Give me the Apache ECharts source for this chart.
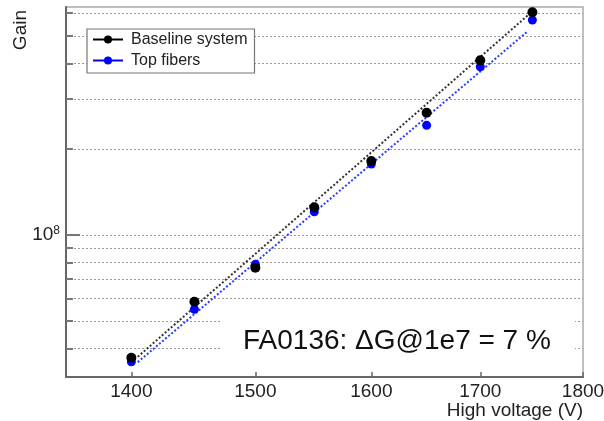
<!DOCTYPE html>
<html>
<head>
<meta charset="utf-8">
<script src="https://cdn.jsdelivr.net/npm/echarts@6/dist/echarts.min.js"></script>
<style>
html,body{margin:0;padding:0;background:#fff;}
#c{width:604px;height:421px;}
</style>
</head>
<body>
<div id="c"></div>
<script>
// ---- data ----
var voltages = [1400, 1450, 1500, 1550, 1600, 1650, 1700, 1750];
var baselineGain = [3.71e7, 5.83e7, 7.68e7, 1.251e8, 1.818e8, 2.686e8, 4.10e8, 6.045e8];
var topGain = [3.59e7, 5.49e7, 7.89e7, 1.207e8, 1.775e8, 2.426e8, 3.895e8, 5.68e8];
var baselineFitV = [1405, 1750];
var baselineFitG = [3.74e7, 6.09e8];
var topFitV = [1405, 1745];
var topFitG = [3.58e7, 5.17e8];
var xTicks = [1400, 1500, 1600, 1700, 1800];
var yTicks = [4e7, 5e7, 6e7, 7e7, 8e7, 9e7, 1e8, 2e8, 3e8, 4e8, 5e8, 6e8];
var yLabels = [1e8];
var annotation = 'FA0136: \u0394G@1e7 = 7 %';

function pairs(xs, ys) { return xs.map(function (x, i) { return [x, ys[i]]; }); }

var FONT = 'Liberation Sans, Arial, Helvetica, sans-serif';
var chart = echarts.init(document.getElementById('c'), null, {renderer: 'canvas'});
chart.setOption({
  animation: false,
  backgroundColor: '#fff',
  grid: {left: 66, right: 21, top: 7, bottom: 44, show: true, borderColor: '#aaa', borderWidth: 1.5,
         backgroundColor: 'transparent', outerBoundsMode: 'none', containLabel: false},
  legend: {
    orient: 'vertical', left: 87, top: 29,
    padding: [2, 7, 4, 5], itemGap: 4, itemWidth: 30, itemHeight: 10,
    borderColor: '#777', borderWidth: 1.2, backgroundColor: '#fff',
    textStyle: {fontFamily: FONT, fontSize: 16, color: '#222', lineHeight: 17, padding: [0, 0, 0, 3]},
    data: [
      {name: 'Baseline system', itemStyle: {color: '#000'}, lineStyle: {opacity: 1, width: 2, type: 'solid', color: '#000'}},
      {name: 'Top fibers', itemStyle: {color: '#0000ff'}, lineStyle: {opacity: 1, width: 2, type: 'solid', color: '#0000ff'}}
    ]
  },
  xAxis: {
    type: 'log', min: 1350, max: 1800,
    name: 'High voltage (V)', nameLocation: 'end', nameGap: 0,
    nameTextStyle: {fontFamily: FONT, fontSize: 19, color: '#222', align: 'right', verticalAlign: 'top', padding: [24, 0, 0, 0]},
    axisLine: {show: true, lineStyle: {color: '#666', width: 2}},
    axisTick: {show: true, inside: true, length: 5, customValues: xTicks, lineStyle: {color: '#666', width: 1.5}},
    minorTick: {show: false},
    axisLabel: {customValues: xTicks, fontFamily: FONT, fontSize: 19, color: '#222', margin: 5,
                formatter: function (v) { return String(Math.round(v)); }},
    splitLine: {show: false}
  },
  yAxis: [{
    type: 'log', min: 3.176e7, max: 6.31e8,
    name: 'Gain', nameLocation: 'end', nameGap: -3, nameRotate: 90,
    nameTextStyle: {fontFamily: FONT, fontSize: 19, color: '#222', align: 'right', verticalAlign: 'bottom', padding: [0, 0, 36, 0]},
    axisLine: {show: true, lineStyle: {color: '#666', width: 2}},
    axisTick: {show: true, inside: true, length: 7, customValues: yTicks, lineStyle: {color: '#777', width: 2}},
    axisLabel: {
      customValues: yLabels, margin: 6,
      formatter: function (v) { var e = Math.round(Math.log10(v)); return '{b|10}{s|' + e + '}'; },
      rich: {b: {fontFamily: FONT, fontSize: 19, color: '#222', lineHeight: 20}, s: {fontFamily: FONT, fontSize: 12, color: '#222', lineHeight: 12, verticalAlign: 'top'}}
    },
    splitLine: {show: true, lineStyle: {color: '#999', width: 1, type: [2, 2]}}
  }, {
    type: 'log', min: 3.176e7, max: 6.31e8, position: 'left',
    axisLine: {show: false},
    axisTick: {show: true, inside: true, length: 14, customValues: yLabels, lineStyle: {color: '#777', width: 2}},
    axisLabel: {show: false},
    splitLine: {show: false}
  }],
  graphic: [
    {type: 'rect', z: 5, shape: {x: 220, y: 308, width: 355, height: 55}, style: {fill: '#fff'}},
    {type: 'text', z: 6, x: 243, y: 341, style: {text: annotation, fontFamily: FONT, fontSize: 28, fill: '#111', verticalAlign: 'middle'}}
  ],
  series: [
    {name: 'Top fit', type: 'line', data: pairs(topFitV, topFitG), showSymbol: false, z: 2,
     lineStyle: {color: '#2b3bff', width: 2, type: [2, 2]}},
    {name: 'Baseline fit', type: 'line', data: pairs(baselineFitV, baselineFitG), showSymbol: false, z: 3,
     lineStyle: {color: '#333', width: 2, type: [2, 2]}},
    {name: 'Top fibers', type: 'line', data: pairs(voltages, topGain), symbol: 'circle', symbolSize: 9, z: 4,
     itemStyle: {color: '#0000ff'}, lineStyle: {opacity: 0, color: '#0000ff'}},
    {name: 'Baseline system', type: 'line', data: pairs(voltages, baselineGain), symbol: 'circle', symbolSize: 10, z: 5,
     itemStyle: {color: '#000'}, lineStyle: {opacity: 0, color: '#000'}}
  ]
});
</script>
</body>
</html>
